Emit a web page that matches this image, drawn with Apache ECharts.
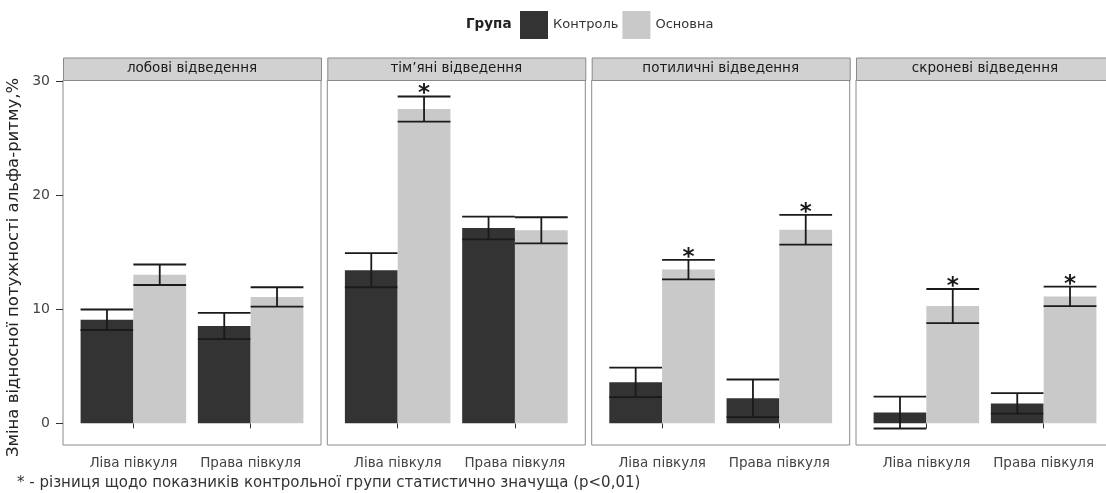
<!DOCTYPE html>
<html>
<head>
<meta charset="utf-8">
<script src="https://cdn.jsdelivr.net/npm/echarts@6/dist/echarts.min.js"></script>
<style>
  html, body { margin: 0; padding: 0; background: #fff; }
  #chart { width: 1106px; height: 493px; }
</style>
</head>
<body>
<div id="chart"></div>
<script>
// Facets (recording regions), categories and groups
const regions = ['лобові відведення', 'тім’яні відведення', 'потиличні відведення', 'скроневі відведення'];
const hemispheres = ['Ліва півкуля', 'Права півкуля'];
const groups = ['Контроль', 'Основна'];

// Mean change and standard error per region: [left, right]
const controlMean = [[9.1, 8.55], [13.45, 17.15], [3.6, 2.2], [0.95, 1.75]];
const controlSE   = [[0.9, 1.15], [1.5, 1.0],    [1.3, 1.65], [1.4, 0.9]];
const mainMean    = [[13.05, 11.1], [27.6, 16.95], [13.5, 17.0], [10.3, 11.15]];
const mainSE      = [[0.9, 0.85],   [1.1, 1.15],   [0.85, 1.3], [1.5, 0.85]];
// Significant difference from the control group (p<0.01)
const mainSignificant = [[0, 0], [1, 0], [1, 1], [1, 1]];

const yTicks = [0, 10, 20, 30];
const yTitle = 'Зміна відносної потужності альфа-ритму,%';
const legendTitle = 'Група';
const footnote = '* - різниця щодо показників контрольної групи статистично значуща (p<0,01)';

// ---- layout & style ----
const FONT = 'DejaVu Sans';
const groupColors = ['#333333', '#c9c9c9'];
const panelLeft = [63, 327.3, 591.7, 856];
const panelWidth = 258;
const panelTop = 80;
const panelHeight = 365;
const stripHeight = 22.5;
const Y_MIN = -1.9, Y_MAX = 30.15;
const BAR_W = 0.45;   // each of two dodged bars, in category units

function makeRender(g) {
  return function (params, api) {
    const x = api.value(0), mean = api.value(1), se = api.value(2), sig = api.value(3);
    const x0 = g === 0 ? x - BAR_W : x;
    const x1 = x0 + BAR_W;
    const tl = api.coord([x0, mean]);
    const br = api.coord([x1, 0]);
    const cx = api.coord([x0 + BAR_W / 2, 0])[0];
    const up = api.coord([x0, mean + se])[1];
    const lo = api.coord([x0, mean - se])[1];
    const ls = { stroke: '#1a1a1a', lineWidth: 1.8 };
    const children = [
      { type: 'rect',
        shape: { x: tl[0], y: Math.min(tl[1], br[1]), width: br[0] - tl[0], height: Math.abs(br[1] - tl[1]) },
        style: { fill: api.visual('color') } },
      { type: 'line', shape: { x1: cx, y1: up, x2: cx, y2: lo }, style: ls },
      { type: 'line', shape: { x1: tl[0], y1: up, x2: br[0], y2: up }, style: ls },
      { type: 'line', shape: { x1: tl[0], y1: lo, x2: br[0], y2: lo }, style: ls }
    ];
    if (sig) {
      children.push({ type: 'text',
        style: { text: '*', x: cx, y: up - 2, fontSize: 23, fontWeight: 'bold', fontFamily: FONT, fill: '#1a1a1a',
                 align: 'center', verticalAlign: 'middle' } });
    }
    return { type: 'group', children };
  };
}

const grids = [], xAxes = [], yAxes = [], series = [], graphics = [];
regions.forEach((name, i) => {
  grids.push({ left: panelLeft[i], top: panelTop, width: panelWidth, height: panelHeight,
    outerBoundsMode: 'none', containLabel: false,
    show: true, borderColor: '#8a8a8a', borderWidth: 1, backgroundColor: '#fff' });
  xAxes.push({ type: 'value', gridIndex: i, min: 0.4, max: 2.6,
    axisLine: { show: false }, splitLine: { show: false },
    axisTick: { show: true, length: 5, customValues: [1, 2], lineStyle: { color: '#333' } },
    axisLabel: { customValues: [1, 2], formatter: v => hemispheres[Math.round(v) - 1] || '',
      fontFamily: FONT, fontSize: 13.5, color: '#444', margin: 11 } });
  yAxes.push({ type: 'value', gridIndex: i, min: Y_MIN, max: Y_MAX,
    axisLine: { show: false }, splitLine: { show: false },
    axisTick: { show: i === 0, length: 7, customValues: yTicks, lineStyle: { color: '#333' } },
    axisLabel: { show: i === 0, customValues: yTicks, fontFamily: FONT, fontSize: 14, color: '#444', margin: 13 },
    name: i === 0 ? yTitle : '', nameLocation: 'middle', nameRotate: 90, nameGap: 41,
    nameTextStyle: { fontFamily: FONT, fontSize: 16.5, color: '#222', padding: [0, 10, 0, 0] } });

  const means = [controlMean[i], mainMean[i]];
  const ses = [controlSE[i], mainSE[i]];
  groups.forEach((gName, g) => {
    series.push({ type: 'custom', name: gName, xAxisIndex: i, yAxisIndex: i,
      itemStyle: { color: groupColors[g] },
      renderItem: makeRender(g),
      encode: { x: 0, y: 1 },
      clip: false,
      data: hemispheres.map((h, k) => [k + 1, means[g][k], ses[g][k], g === 1 ? mainSignificant[i][k] : 0])
    });
  });

  // facet strip
  graphics.push({ type: 'rect', left: panelLeft[i], top: panelTop - stripHeight,
    shape: { width: panelWidth, height: stripHeight },
    style: { fill: '#d1d1d1', stroke: '#8a8a8a', lineWidth: 1 } });
  graphics.push({ type: 'text', x: panelLeft[i] + panelWidth / 2, y: panelTop - stripHeight / 2,
    style: { text: name, fontFamily: FONT, fontSize: 13.5, fill: '#1a1a1a', align: 'center', verticalAlign: 'middle' } });
});

graphics.push({ type: 'text', x: 17, y: 483,
  style: { text: footnote, fontFamily: FONT, fontSize: 15, fill: '#333', verticalAlign: 'middle' } });

const chart = echarts.init(document.getElementById('chart'), null, { renderer: 'canvas' });
chart.setOption({
  animation: false,
  backgroundColor: '#fff',
  title: { text: legendTitle, left: 461, top: 12,
    textStyle: { fontFamily: FONT, fontSize: 13.5, fontWeight: 'bold', color: '#222' } },
  legend: { left: 515, top: 6, itemWidth: 28, itemHeight: 28, itemGap: 4, icon: 'rect', selectedMode: false,
    textStyle: { fontFamily: FONT, fontSize: 13, color: '#333' },
    data: groups.map((g, k) => ({ name: g, itemStyle: { color: groupColors[k] } })) },
  grid: grids,
  xAxis: xAxes,
  yAxis: yAxes,
  series: series,
  graphic: graphics
});
</script>
</body>
</html>
